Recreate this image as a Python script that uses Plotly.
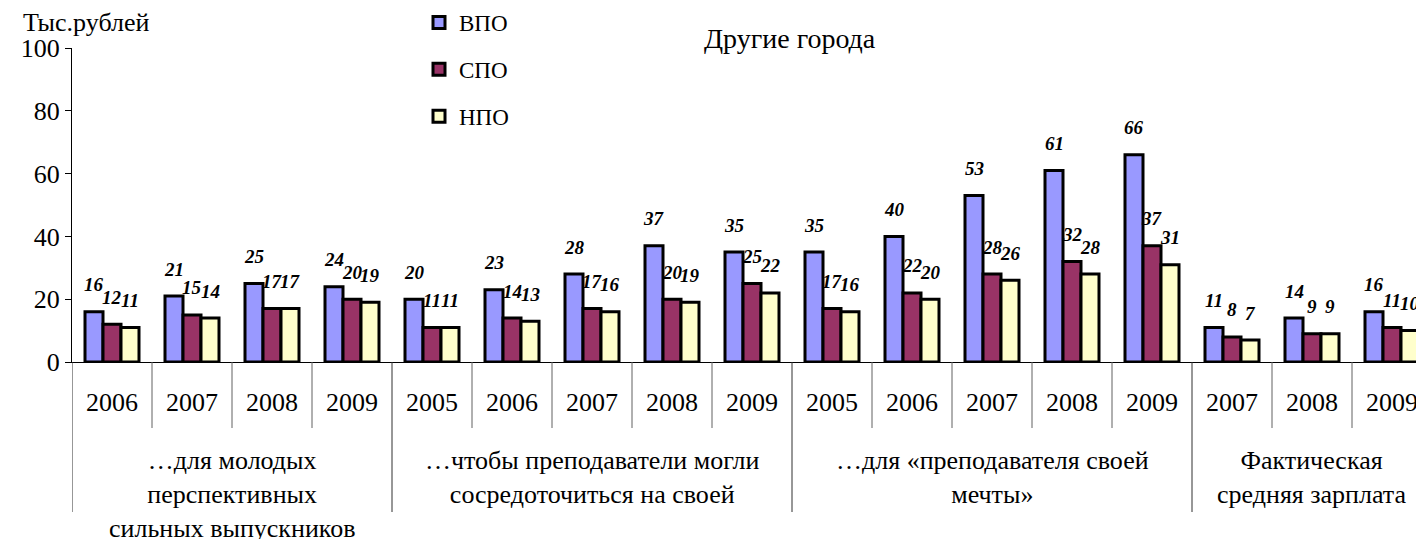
import plotly.graph_objects as go

# ---- data ----
years = ["2006", "2007", "2008", "2009",
         "2005", "2006", "2007", "2008", "2009",
         "2005", "2006", "2007", "2008", "2009",
         "2007", "2008", "2009"]
groups = ["…для молодых<br>перспективных<br>сильных выпускников",
          "…чтобы преподаватели могли<br>сосредоточиться на своей",
          "…для «преподавателя своей<br>мечты»",
          "Фактическая<br>средняя зарплата"]
group_sizes = [4, 5, 5, 3]

vpo = [16, 21, 25, 24, 20, 23, 28, 37, 35, 35, 40, 53, 61, 66, 11, 14, 16]
spo = [12, 15, 17, 20, 11, 14, 17, 20, 25, 17, 22, 28, 32, 37, 8, 9, 11]
npo = [11, 14, 17, 19, 11, 13, 16, 19, 22, 16, 20, 26, 28, 31, 7, 9, 10]

series_names = ["ВПО", "СПО", "НПО"]
series_colors = ["#9999FF", "#993366", "#FFFFCC"]
series_values = [vpo, spo, npo]

FONT = "Liberation Serif"
BAR_W = 0.225
PW, PH, L, T = 1344, 314, 72, 48  # plot area px


def px_x(px):
    return (px - L) / PW


def px_y(py):
    return (T + PH - py) / PH


xs = list(range(len(years)))
fig = go.Figure()
for k, (name, col, vals) in enumerate(zip(series_names, series_colors, series_values)):
    fig.add_trace(go.Bar(
        x=xs, y=vals, name=name, legendgroup=name,
        marker=dict(color=col, line=dict(color="black", width=3)),
        hoverinfo="skip",
    ))
    off = (k - 1) * BAR_W
    for i, v in enumerate(vals):
        fig.add_annotation(x=i + off, y=v, text=f"<b><i>{v}</i></b>", showarrow=False,
                           xref="x", yref="y", yanchor="middle", yshift=27,
                           font=dict(family=FONT, size=19, color="black"))

# year labels and dividers
for i, yr in enumerate(years):
    fig.add_annotation(x=i, y=px_y(402), xref="x", yref="paper", text=yr, showarrow=False,
                       yanchor="middle", font=dict(family=FONT, size=26, color="black"))

start = 0
bounds = [-0.5]
for g, size in zip(groups, group_sizes):
    center = start + (size - 1) / 2
    fig.add_annotation(x=center, y=px_y(444), xref="x", yref="paper", text=g, showarrow=False,
                       yanchor="top", align="center",
                       font=dict(family=FONT, size=26, color="black"))
    for j in range(start, start + size - 1):
        fig.add_shape(type="line", xref="x", yref="paper", x0=j + 0.5, x1=j + 0.5,
                      y0=0, y1=px_y(428), line=dict(color="#606060", width=1))
    start += size
    bounds.append(start - 0.5)
for b in bounds:
    fig.add_shape(type="line", xref="x", yref="paper", x0=b, x1=b,
                  y0=0, y1=px_y(512), line=dict(color="#303030", width=1))

fig.add_annotation(x=px_x(790), y=px_y(38), xref="paper", yref="paper", text="Другие города",
                   showarrow=False, xanchor="center", yanchor="middle",
                   font=dict(family=FONT, size=28, color="black"))
fig.add_annotation(x=px_x(21), y=px_y(22), xref="paper", yref="paper",
                   xanchor="left", yanchor="middle", text="Тыс.рублей", showarrow=False,
                   font=dict(family=FONT, size=26, color="black"))

fig.update_layout(
    width=1416, height=539,
    margin=dict(l=L, r=1416 - L - PW, t=T, b=539 - T - PH, autoexpand=False),
    paper_bgcolor="white", plot_bgcolor="white",
    barmode="group", bargap=1 - 3 * BAR_W, bargroupgap=0,
    showlegend=True,
    legend=dict(x=px_x(419), y=px_y(1), xanchor="left", yanchor="top",
                font=dict(family=FONT, size=23, color="black"),
                tracegroupgap=14, bgcolor="rgba(0,0,0,0)", itemwidth=30),
    xaxis=dict(range=[-0.5, 16.3], showticklabels=False, ticks="", showgrid=False,
               zeroline=False, showline=True, linecolor="black", linewidth=1,
               automargin=False),
    yaxis=dict(range=[0, 100], tickvals=[0, 20, 40, 60, 80, 100], ticks="outside",
               ticklen=6, tickcolor="black", showline=True, linecolor="black", linewidth=1,
               showgrid=False, zeroline=False, automargin=False,
               tickfont=dict(family=FONT, size=26, color="black")),
)

fig.write_html("out.html", config={"displayModeBar": False},
               post_script="document.body.style.margin='0';")
